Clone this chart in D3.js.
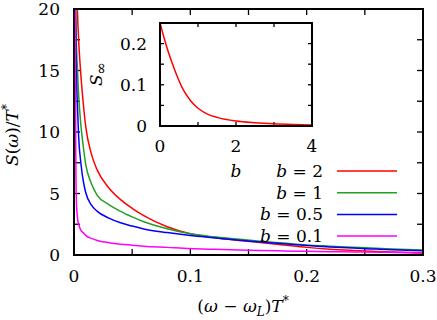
<!DOCTYPE html>
<html>
<head>
<meta charset="utf-8">
<script src="https://cdn.jsdelivr.net/npm/d3@7"></script>
<style>
  body { margin: 0; background: #fff; }
  text { font-family: "DejaVu Serif", serif; font-size: 17px; fill: #000; }
</style>
</head>
<body>
<svg id="chart" width="437" height="320"></svg>
<script>
// main panel: S(w)/T* against (w - wL)T*
var freq = [0.001, 0.0015, 0.002, 0.003, 0.004, 0.006, 0.008, 0.01, 0.015, 0.02, 0.03, 0.04, 0.05, 0.06,
            0.08, 0.1, 0.12, 0.14, 0.16, 0.18, 0.2, 0.22, 0.24, 0.26, 0.28, 0.3];
var specB2  = [40, 32, 24, 19.7, 17.5, 14.5, 12.3, 10.5, 8.2, 6.9, 5.45, 4.5, 3.8, 3.2,
               2.3, 1.73, 1.42, 1.2, 1.02, 0.82, 0.62, 0.47, 0.37, 0.29, 0.22, 0.15];
var specB1  = [24, 20, 17.5, 15, 13, 10.5, 8.8, 7.4, 5.8, 4.85, 4.1, 3.55, 3.1, 2.7,
               2.13, 1.72, 1.48, 1.3, 1.12, 0.97, 0.82, 0.72, 0.63, 0.55, 0.47, 0.4];
var specB05 = [21, 18, 15, 12, 9.6, 7.4, 6.0, 5.1, 4.05, 3.55, 3.0, 2.62, 2.35, 2.12,
               1.82, 1.58, 1.4, 1.22, 1.06, 0.92, 0.78, 0.66, 0.56, 0.48, 0.41, 0.35];
var specB01 = [22, 9, 4.5, 3.0, 2.5, 2.0, 1.8, 1.6, 1.35, 1.18, 1.0, 0.88, 0.8, 0.72,
               0.62, 0.52, 0.46, 0.41, 0.37, 0.33, 0.3, 0.27, 0.25, 0.23, 0.21, 0.19];
var seriesNames = ["2", "1", "0.5", "0.1"];
var seriesColors = ["#ff0000", "#22a022", "#0000ff", "#ff00ff"];

// inset: S_inf against b
var bVals = [0, 0.2, 0.4, 0.6, 0.8, 1.0, 1.25, 1.5, 2.0, 2.5, 3.0, 3.5, 4.0];
var sInf  = [0.25, 0.185, 0.133, 0.090, 0.062, 0.043, 0.029, 0.021, 0.012, 0.0078, 0.0052, 0.0036, 0.0026];

var xTicks = [0, 0.05, 0.1, 0.15, 0.2, 0.25, 0.3];
var xLabels = [0, 0.1, 0.2, 0.3];
var yTicks = [0, 2.5, 5, 7.5, 10, 12.5, 15, 17.5, 20];
var yLabels = [0, 5, 10, 15, 20];
var ixTicks = [0, 1, 2, 3, 4];
var ixLabels = [0, 2, 4];
var iyTicks = [0, 0.05, 0.1, 0.15, 0.2, 0.25];
var iyLabels = [0, 0.1, 0.2];

var svg = d3.select("#chart");

var x = d3.scaleLinear().domain([0, 0.3]).range([74, 423]);
var y = d3.scaleLinear().domain([0, 20]).range([255, 9]);

svg.append("clipPath").attr("id", "clipMain")
  .append("rect")
  .attr("x", x(0)).attr("y", y(20))
  .attr("width", x(0.3) - x(0)).attr("height", y(0) - y(20));

// ticks, inward, mirrored
function ticksOn(g, sx, sy, xt, yt, len) {
  var x0 = sx.range()[0], x1 = sx.range()[1], y0 = sy.range()[0], y1 = sy.range()[1];
  xt.forEach(function(v) {
    g.append("line").attr("x1", sx(v)).attr("x2", sx(v)).attr("y1", y0).attr("y2", y0 - len);
    g.append("line").attr("x1", sx(v)).attr("x2", sx(v)).attr("y1", y1).attr("y2", y1 + len);
  });
  yt.forEach(function(v) {
    g.append("line").attr("y1", sy(v)).attr("y2", sy(v)).attr("x1", x0).attr("x2", x0 + len);
    g.append("line").attr("y1", sy(v)).attr("y2", sy(v)).attr("x1", x1).attr("x2", x1 - len);
  });
  g.selectAll("line").attr("stroke", "#000").attr("stroke-width", 1.3);
}

var gTicks = svg.append("g");
ticksOn(gTicks, x, y, xTicks, yTicks, 6);

svg.append("g").selectAll("text").data(xLabels).enter().append("text")
  .attr("x", function(d) { return x(d); })
  .attr("y", 282)
  .attr("text-anchor", "middle")
  .text(function(d) { return d; });

svg.append("g").selectAll("text").data(yLabels).enter().append("text")
  .attr("x", 60)
  .attr("y", function(d) { return y(d) + 6; })
  .attr("text-anchor", "end")
  .text(function(d) { return d; });

// curves
var specs = [specB2, specB1, specB05, specB01];
var line = d3.line()
  .x(function(d) { return x(d[0]); })
  .y(function(d) { return y(d[1]); })
  .curve(d3.curveMonotoneX);

var gCurves = svg.append("g").attr("clip-path", "url(#clipMain)");
specs.forEach(function(s, i) {
  gCurves.append("path")
    .datum(d3.zip(freq, s))
    .attr("d", line)
    .attr("fill", "none")
    .attr("stroke", seriesColors[i])
    .attr("stroke-width", 1.5);
});

// legend
seriesNames.forEach(function(n, i) {
  var ly = 171 + i * 21.7;
  var t = svg.append("text").attr("x", 323).attr("y", ly + 6).attr("text-anchor", "end");
  t.append("tspan").attr("font-style", "italic").text("b");
  t.append("tspan").text(" = " + n);
  svg.append("line")
    .attr("x1", 337).attr("x2", 397).attr("y1", ly).attr("y2", ly)
    .attr("stroke", seriesColors[i]).attr("stroke-width", 1.5);
});

// main frame
svg.append("rect")
  .attr("x", x(0)).attr("y", y(20))
  .attr("width", x(0.3) - x(0)).attr("height", y(0) - y(20))
  .attr("fill", "none").attr("stroke", "#000").attr("stroke-width", 2);

// axis titles
var xt = svg.append("text").attr("x", 243).attr("y", 312).attr("text-anchor", "middle");
xt.append("tspan").text("(");
xt.append("tspan").attr("font-style", "italic").text("ω");
xt.append("tspan").text(" − ");
xt.append("tspan").attr("font-style", "italic").text("ω");
xt.append("tspan").attr("font-style", "italic").attr("font-size", "12px").attr("dy", 4).text("L");
xt.append("tspan").attr("dy", -4).text(")");
xt.append("tspan").attr("font-style", "italic").text("T");
xt.append("tspan").attr("font-size", "12px").attr("dy", -7).text("*");

var yt = svg.append("text").attr("transform", "translate(18,135) rotate(-90)").attr("text-anchor", "middle");
yt.append("tspan").attr("font-style", "italic").text("S");
yt.append("tspan").text("(");
yt.append("tspan").attr("font-style", "italic").text("ω");
yt.append("tspan").text(")/");
yt.append("tspan").attr("font-style", "italic").text("T");
yt.append("tspan").attr("font-size", "12px").attr("dy", -7).text("*");

// inset
var ix = d3.scaleLinear().domain([0, 4]).range([160, 312]);
var iy = d3.scaleLinear().domain([0, 0.25]).range([126, 23]);

svg.append("rect")
  .attr("x", ix(0)).attr("y", iy(0.25))
  .attr("width", ix(4) - ix(0)).attr("height", iy(0) - iy(0.25))
  .attr("fill", "#fff");

var gInsetTicks = svg.append("g");
ticksOn(gInsetTicks, ix, iy, ixTicks, iyTicks, 4);

svg.append("path")
  .datum(d3.zip(bVals, sInf))
  .attr("d", d3.line()
    .x(function(d) { return ix(d[0]); })
    .y(function(d) { return iy(d[1]); })
    .curve(d3.curveMonotoneX))
  .attr("fill", "none")
  .attr("stroke", "#ff0000")
  .attr("stroke-width", 1.5);

svg.append("rect")
  .attr("x", ix(0)).attr("y", iy(0.25))
  .attr("width", ix(4) - ix(0)).attr("height", iy(0) - iy(0.25))
  .attr("fill", "none").attr("stroke", "#000").attr("stroke-width", 2);

svg.append("g").selectAll("text").data(ixLabels).enter().append("text")
  .attr("x", function(d) { return ix(d); })
  .attr("y", 152)
  .attr("text-anchor", "middle")
  .text(function(d) { return d; });

svg.append("g").selectAll("text").data(iyLabels).enter().append("text")
  .attr("x", 147)
  .attr("y", function(d) { return iy(d) + 6; })
  .attr("text-anchor", "end")
  .text(function(d) { return d; });

svg.append("text").attr("x", 236).attr("y", 177).attr("text-anchor", "middle")
  .attr("font-style", "italic").text("b");

var st = svg.append("text").attr("transform", "translate(102,74) rotate(-90)").attr("text-anchor", "middle");
st.append("tspan").attr("font-style", "italic").text("S");
st.append("tspan").attr("font-size", "15px").attr("dy", 4).text("∞");
</script>
</body>
</html>
